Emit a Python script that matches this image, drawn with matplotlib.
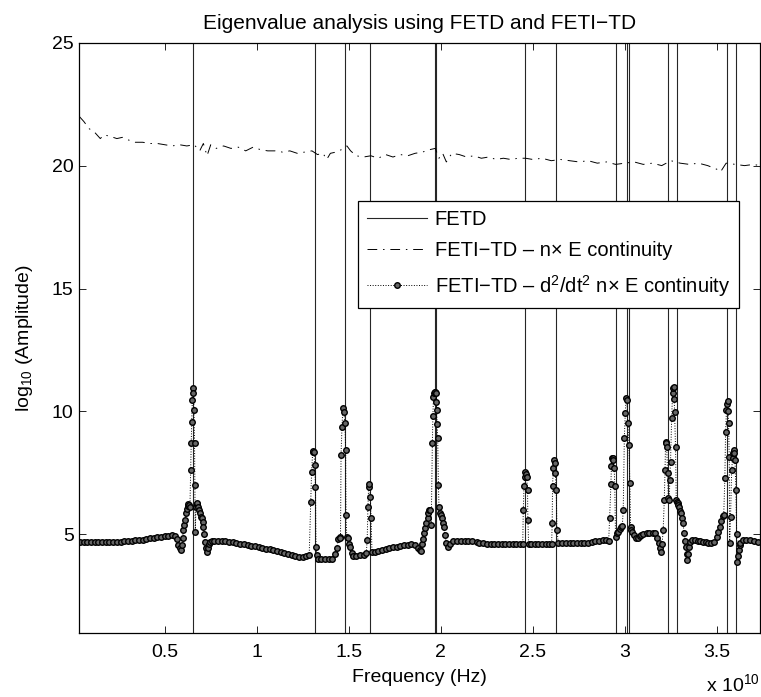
import numpy as np
import matplotlib
matplotlib.use("Agg")
import matplotlib.pyplot as plt
from matplotlib.ticker import FormatStrFormatter

plt.rcParams['font.family'] = ['Liberation Sans', 'DejaVu Sans']
plt.rcParams['mathtext.fontset'] = 'custom'
plt.rcParams['mathtext.rm'] = 'Liberation Sans'
plt.rcParams['mathtext.it'] = 'Liberation Sans:italic'

# eigenfrequencies from FETD (x 1e10 Hz)
fetd_freq = [0.655, 1.315, 1.478, 1.614, 1.967, 1.973, 2.460, 2.625, 2.952,
             3.011, 3.024, 3.236, 3.285, 3.553, 3.602]

# FETI-TD, n x E continuity
nxe_freq = [0.036, 0.06, 0.09, 0.12, 0.15, 0.17, 0.20, 0.24, 0.27, 0.30, 0.34, 0.38,
            0.42, 0.46, 0.50, 0.54, 0.58, 0.62, 0.66, 0.69, 0.71, 0.73, 0.75, 0.78,
            0.82, 0.86, 0.90, 0.94, 0.98, 1.02, 1.06, 1.10, 1.14, 1.18, 1.22, 1.26,
            1.30, 1.33, 1.36, 1.38, 1.40, 1.43, 1.46, 1.49, 1.51, 1.54, 1.58, 1.62,
            1.66, 1.70, 1.74, 1.78, 1.82, 1.86, 1.90, 1.94, 1.97, 1.99, 2.01, 2.03,
            2.06, 2.10, 2.14, 2.18, 2.22, 2.26, 2.30, 2.34, 2.38, 2.42, 2.46, 2.50,
            2.55, 2.60, 2.65, 2.70, 2.75, 2.80, 2.85, 2.90, 2.95, 3.00, 3.05, 3.10,
            3.15, 3.20, 3.25, 3.30, 3.35, 3.40, 3.45, 3.50, 3.52, 3.55, 3.60, 3.65,
            3.70, 3.73]
nxe_amp = [22.0, 21.8, 21.5, 21.35, 21.1, 21.25, 21.2, 21.1, 21.15, 21.05, 20.95, 20.95,
           20.9, 20.9, 20.85, 20.8, 20.85, 20.8, 20.85, 20.6, 20.9, 20.4, 20.85, 20.7,
           20.8, 20.7, 20.75, 20.6, 20.75, 20.65, 20.6, 20.6, 20.55, 20.6, 20.5, 20.55,
           20.6, 20.45, 20.5, 20.25, 20.5, 20.55, 20.65, 20.8, 20.6, 20.4, 20.35, 20.4,
           20.3, 20.45, 20.35, 20.45, 20.4, 20.5, 20.55, 20.65, 20.7, 20.3, 20.5, 20.15,
           20.5, 20.45, 20.35, 20.4, 20.3, 20.35, 20.25, 20.3, 20.25, 20.3, 20.3, 20.25,
           20.3, 20.2, 20.25, 20.2, 20.15, 20.2, 20.1, 20.15, 20.05, 20.1, 20.15, 20.05,
           20.1, 20.0, 20.2, 20.1, 20.05, 20.1, 20.0, 19.85, 19.75, 20.1, 20.05, 20.0,
           20.05, 20.0]

# FETI-TD, d2/dt2 n x E continuity
d2_freq = [0.04, 0.06, 0.08, 0.10, 0.12, 0.14, 0.16, 0.18, 0.20, 0.22, 0.24, 0.26,
           0.28, 0.30, 0.32, 0.34, 0.36, 0.38, 0.40, 0.42, 0.44, 0.46, 0.48, 0.50,
           0.52, 0.54, 0.555,
           0.565, 0.574, 0.581, 0.587, 0.592, 0.597, 0.601, 0.606, 0.610, 0.614, 0.619,
           0.624, 0.628, 0.633, 0.637, 0.641, 0.644, 0.647, 0.650, 0.653, 0.656, 0.659,
           0.662, 0.664, 0.666, 0.670, 0.674, 0.677, 0.681, 0.686, 0.691, 0.696, 0.701,
           0.706, 0.710, 0.715, 0.719, 0.724, 0.728, 0.733, 0.738, 0.745, 0.755,
           0.77, 0.79, 0.81, 0.83, 0.85, 0.87, 0.89, 0.91, 0.93, 0.95, 0.97, 0.99,
           1.01, 1.03, 1.05, 1.07, 1.09, 1.11, 1.13, 1.15, 1.17, 1.19, 1.21, 1.23,
           1.25, 1.27, 1.285,
           1.293, 1.298, 1.304, 1.308, 1.311, 1.315, 1.319, 1.322, 1.326,
           1.334, 1.35, 1.37, 1.39, 1.41,
           1.425, 1.435, 1.443, 1.450, 1.455, 1.458, 1.463, 1.468, 1.473, 1.479, 1.483,
           1.485, 1.489, 1.494, 1.500, 1.506, 1.515, 1.525, 1.54, 1.56, 1.58, 1.595,
           1.600, 1.604, 1.608, 1.612, 1.617, 1.621, 1.626,
           1.64, 1.66, 1.68, 1.70, 1.72, 1.74, 1.76, 1.78, 1.80, 1.82, 1.84, 1.86,
           1.875, 1.885, 1.892, 1.898, 1.903, 1.908, 1.915, 1.922, 1.928, 1.933, 1.938,
           1.943, 1.948, 1.954, 1.957, 1.960, 1.963, 1.966, 1.969, 1.972, 1.975, 1.977,
           1.980, 1.983, 1.987, 1.990, 1.995, 2.000, 2.004, 2.010, 2.015, 2.022, 2.030,
           2.041, 2.05, 2.068, 2.09, 2.11, 2.13, 2.15, 2.17, 2.194, 2.21, 2.23, 2.25,
           2.27, 2.29, 2.31, 2.33, 2.35, 2.37, 2.39, 2.41, 2.43, 2.445,
           2.448, 2.452, 2.456, 2.459, 2.463, 2.466, 2.471, 2.473, 2.477,
           2.49, 2.51, 2.53, 2.55, 2.57, 2.59,
           2.602, 2.605, 2.607, 2.611, 2.616, 2.619, 2.622, 2.627, 2.631, 2.638,
           2.66, 2.68, 2.70, 2.72, 2.74, 2.76, 2.78, 2.80, 2.82, 2.84, 2.86, 2.88,
           2.90, 2.912,
           2.917, 2.924, 2.927, 2.930, 2.934, 2.937, 2.942, 2.945, 2.949, 2.955, 2.964,
           2.972, 2.980, 2.986, 2.991, 2.997, 3.002, 3.007, 3.011, 3.016, 3.022, 3.027,
           3.031, 3.033, 3.04, 3.05, 3.06, 3.07, 3.08, 3.09, 3.10, 3.118, 3.13, 3.15,
           3.165, 3.176, 3.187, 3.192, 3.196,
           3.202, 3.208, 3.214, 3.218, 3.221, 3.224, 3.227, 3.232, 3.236, 3.241, 3.244,
           3.248, 3.254, 3.259, 3.262, 3.265, 3.268, 3.270, 3.275, 3.279, 3.283, 3.286,
           3.29, 3.295, 3.30, 3.304, 3.31, 3.316, 3.322, 3.327, 3.331, 3.335, 3.339,
           3.343, 3.346, 3.353, 3.365, 3.38, 3.395, 3.41, 3.425, 3.44, 3.453, 3.47,
           3.485, 3.498, 3.507, 3.516, 3.524, 3.531, 3.537, 3.543, 3.547, 3.552, 3.555,
           3.558, 3.561, 3.563, 3.567, 3.569, 3.574, 3.580, 3.585, 3.589, 3.592, 3.595,
           3.598, 3.603, 3.607, 3.610, 3.614, 3.618, 3.623, 3.628, 3.643, 3.66, 3.68,
           3.70, 3.724]
d2_amp = [4.68, 4.68, 4.68, 4.68, 4.68, 4.68, 4.68, 4.68, 4.69, 4.69, 4.70, 4.70,
          4.72, 4.73, 4.74, 4.76, 4.77, 4.79, 4.81, 4.84, 4.86, 4.88, 4.90, 4.92,
          4.95, 4.96, 4.93,
          4.80, 4.57, 4.45, 4.36, 4.55, 4.85, 5.18, 5.40, 5.58, 5.85, 6.05,
          6.15, 6.24, 6.20, 6.10, 7.62, 8.70, 9.58, 10.47, 10.94, 10.74, 10.06,
          8.70, 7.0, 5.11, 6.13, 6.22, 6.26, 6.10, 5.99, 5.85, 5.72, 5.65,
          5.50, 5.31, 5.0, 4.70, 4.45, 4.30, 4.45, 4.60, 4.70, 4.74,
          4.75, 4.75, 4.74, 4.72, 4.70, 4.68, 4.65, 4.62, 4.60, 4.57, 4.54, 4.51,
          4.48, 4.45, 4.42, 4.39, 4.36, 4.33, 4.29, 4.25, 4.21, 4.16, 4.11, 4.08,
          4.07, 4.10, 4.16,
          6.33, 7.55, 8.36, 8.40, 8.36, 7.82, 6.94, 4.50, 4.16,
          4.00, 3.98, 3.98, 3.98, 4.00,
          4.20, 4.45, 4.80, 4.91, 4.85, 8.23, 9.38, 10.13, 9.99, 9.52, 8.43,
          5.79, 4.91, 4.84, 4.60, 4.50, 4.25, 4.12, 4.12, 4.15, 4.18, 4.23,
          4.77, 6.13, 6.94, 7.04, 6.53, 5.65, 4.30,
          4.30, 4.33, 4.37, 4.42, 4.45, 4.47, 4.50, 4.54, 4.55, 4.57, 4.60, 4.55,
          4.45, 4.36, 4.34, 4.60, 4.80, 5.04, 5.25, 5.45, 5.65, 5.86, 5.99,
          6.00, 5.40, 8.70, 9.80, 10.60, 10.75, 10.81, 10.80, 10.74, 10.40, 10.06,
          9.5, 8.91, 7.0, 6.13, 5.85, 5.79, 5.65, 5.45, 5.31, 4.97, 4.64,
          4.47, 4.60, 4.74, 4.74, 4.74, 4.74, 4.74, 4.74, 4.69, 4.66, 4.64, 4.62,
          4.61, 4.61, 4.61, 4.61, 4.61, 4.61, 4.61, 4.61, 4.61, 4.61,
          5.99, 6.97, 7.35, 7.55, 7.45, 7.35, 6.80, 5.58, 4.61,
          4.61, 4.61, 4.61, 4.61, 4.61, 4.61,
          4.61, 5.45, 6.97, 7.69, 8.03, 7.9, 7.48, 6.80, 5.18, 4.66,
          4.63, 4.63, 4.63, 4.63, 4.63, 4.63, 4.63, 4.64, 4.69, 4.72, 4.74, 4.77,
          4.77, 4.75,
          5.65, 7.05, 7.8, 8.12, 8.10, 8.03, 7.69, 6.97, 4.91, 5.04, 5.11,
          5.2, 5.31, 5.35, 5.99, 8.91, 9.92, 10.53, 10.46, 9.52, 8.64, 7.08,
          5.3, 5.18, 5.1, 4.98, 4.84, 4.87, 4.93, 4.97, 5.00, 5.07, 5.07, 5.06,
          5.04, 4.84, 4.64, 4.45, 4.30,
          4.6, 5.18, 6.40, 7.6, 8.77, 8.70, 8.57, 7.48, 6.47, 6.40, 7.2,
          7.96, 9.72, 10.74, 10.95, 11.01, 10.5, 9.99, 8.57, 6.40, 6.30, 6.26,
          6.20, 6.13, 5.95, 5.86, 5.65, 5.45, 5.04, 4.75, 4.50, 4.2, 3.96,
          4.2, 4.50, 4.70, 4.77, 4.77, 4.74, 4.72, 4.70, 4.67, 4.64, 4.64,
          4.70, 4.91, 5.1, 5.31, 5.55, 5.75, 5.80, 7.28, 9.18, 10.06, 10.30,
          10.44, 10.0, 9.52, 8.16, 4.64, 5.72, 7.62, 8.09, 8.3, 8.43, 8.3,
          8.03, 6.80, 5.0, 3.89, 4.1, 4.36, 4.55, 4.64, 4.77, 4.77, 4.77,
          4.74, 4.70]

fig = plt.figure(figsize=(7.61, 6.97), dpi=100)
ax = fig.add_axes([79.3 / 761, 1 - 632.7 / 697, 680.7 / 761, 590 / 697])

for i, f in enumerate(fetd_freq):
    ax.axvline(f, color='0.15', lw=0.8, label='FETD' if i == 0 else None)
ax.plot(nxe_freq, nxe_amp, color='k', lw=0.7, dashes=(10, 6, 1.5, 6),
        label='FETI\u2212TD \u2013 n\u00d7 E continuity')
ax.plot(d2_freq, d2_amp, color='k', lw=0.7, linestyle=':', marker='o',
        markersize=4.0, mfc='0.4', mec='k', mew=1.0,
        label='FETI\u2212TD \u2013 d$^2$/dt$^2$ n\u00d7 E continuity')

ax.set_xlim(0.036, 3.734)
ax.set_ylim(1, 25)
ax.set_xticks([0.5, 1, 1.5, 2, 2.5, 3, 3.5])
ax.set_yticks([5, 10, 15, 20, 25])
ax.xaxis.set_major_formatter(FormatStrFormatter('%g'))
ax.tick_params(direction='in', top=True, right=True, length=5, width=0.6,
               labelsize=14)
ax.tick_params(axis='x', pad=8)
ax.tick_params(axis='y', pad=4)
for s in ax.spines.values():
    s.set_linewidth(0.9)

ax.set_title('Eigenvalue analysis using FETD and FETI\u2212TD', fontsize=15, pad=10)
ax.set_xlabel('Frequency (Hz)', fontsize=14, labelpad=6)
ax.set_ylabel(r'log$_{\mathrm{10}}$ (Amplitude)', fontsize=14, labelpad=12)
ax.text(1.0, -0.0985, r'x 10$^{\mathrm{10}}$', transform=ax.transAxes,
        ha='right', va='baseline', fontsize=14)

leg = ax.legend(loc='upper left', bbox_to_anchor=(0.4094, 0.7322), borderaxespad=0,
                fontsize=14.5, fancybox=False, framealpha=1, edgecolor='k',
                handlelength=3.0, handletextpad=0.35, labelspacing=0.62,
                borderpad=0.45)
leg.get_frame().set_linewidth(0.9)

fig.savefig('out.png', dpi=100)
plt.close(fig)
